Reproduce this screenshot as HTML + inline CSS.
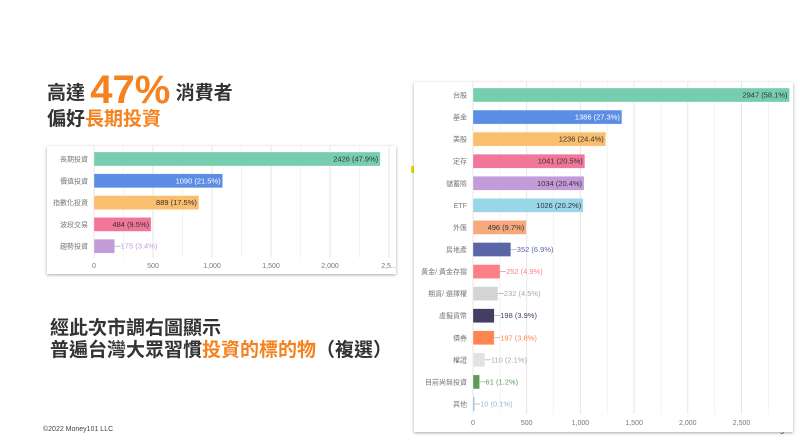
<!DOCTYPE html>
<html><head><meta charset="utf-8">
<style>
body{margin:0;width:800px;height:448px;background:#fff;font-family:"Liberation Sans","Noto Sans CJK TC",sans-serif;position:relative;overflow:hidden}
.t{position:absolute;color:#333;white-space:nowrap}
.o{color:#f58220}
.card{position:absolute;background:#fff;box-shadow:0 1px 3px rgba(0,0,0,.35)}
svg text{font-family:"Liberation Sans","Noto Sans CJK TC",sans-serif}
</style></head><body>
<div class="t" style="left:47px;top:68px;font-size:19px;font-weight:bold;line-height:44px">高達 <span class="o" style="font-size:40px;vertical-align:-4px">47%</span> 消費者</div>
<div class="t" style="left:47px;top:107px;font-size:19px;font-weight:bold;line-height:26px">偏好<span class="o">長期投資</span></div>
<div class="t" style="left:50px;top:318px;font-size:19px;font-weight:bold;line-height:22px">經此次市調右圖顯示<br>普遍台灣大眾習慣<span class="o">投資的標的物</span>（複選）</div>
<div class="t" style="left:43px;top:426px;font-size:7px;color:#444">©2022 Money101 LLC</div>
<div class="t" style="left:780px;top:429px;font-size:7px;color:#444">5</div>
<div style="position:absolute;left:411px;top:166px;width:3px;height:7px;background:#f3e000"></div>

<div class="card" style="left:47px;top:146px;width:349px;height:128px"><svg id="c1" width="349" height="128"></svg></div>
<div class="card" style="left:414px;top:82px;width:379px;height:350px"><svg id="c2" width="379" height="350"></svg></div>

<script>
const leftCats=["長期投資","價值投資","指數化投資","波段交易","趨勢投資"];
const leftVals=[2426,1090,889,484,175];
const leftPcts=["47.9%","21.5%","17.5%","9.5%","3.4%"];
const leftColors=["#77cdb0","#5b8de4","#f9be6e","#f2769a","#c39bd9"];
const leftTicks=[0,500,1000,1500,2000,2500];
const leftTickLabels=["0","500","1,000","1,500","2,000","2,5..."];

const rightCats=["台股","基金","美股","定存","儲蓄險","ETF","外匯","房地產","黃金/ 黃金存摺","期貨/ 選擇權","虛擬貨幣","債券","權證","目前尚無投資","其他"];
const rightVals=[2947,1386,1236,1041,1034,1026,496,352,252,232,198,197,110,61,10];
const rightPcts=["58.1%","27.3%","24.4%","20.5%","20.4%","20.2%","9.7%","6.9%","4.9%","4.5%","3.9%","3.8%","2.1%","1.2%","0.1%"];
const rightColors=["#77cdb0","#5b8de4","#f9be6e","#f2769a","#c39bd9","#9ad5e8","#f7a97e","#5a66a8","#fb7f86","#d4d4d4","#433e63","#ff8550","#e2e2e2","#5f9a5a","#8bbde0"];
const rightTicks=[0,500,1000,1500,2000,2500,3000];
const rightTickLabels=["0","500","1,000","1,500","2,000","2,500","⋮"];

const NS="http://www.w3.org/2000/svg";
function mk(svg,tag,a,txt){const e=document.createElementNS(NS,tag);for(const k in a)e.setAttribute(k,a[k]);if(txt!=null)e.textContent=txt;svg.appendChild(e);return e;}
function draw(id,cats,vals,pcts,colors,ticks,tlabels,o){
  const svg=document.getElementById(id);
  const x=v=>o.x0+v*o.k;
  const y=i=>o.y0+i*o.step;
  for(let v=0;v<=o.gmax;v+=250){
    const g=mk(svg,'line',{x1:x(v),x2:x(v),y1:o.gtop,y2:o.gbot,stroke:v%500?'#f3f3f3':'#e6e6e6','stroke-width':1});
    
  }
  ticks.forEach((t,i)=>{
    const e=mk(svg,'text',{x:x(t),y:o.ty,'font-size':7,fill:'#777','text-anchor':'middle'},tlabels[i]);
    
  });
  cats.forEach((c,i)=>{
    const cy=y(i);
    const l=mk(svg,'text',{x:o.x0-6,y:cy+2.5,'font-size':7,fill:'#777','text-anchor':'end'},c);
    
    const w=vals[i]*o.k;
    const r=mk(svg,'rect',{x:o.x0,y:cy-o.bh/2,width:Math.max(w,1.5),height:o.bh,fill:colors[i],stroke:'rgba(255,255,255,.6)','stroke-width':0.5});
    
    const lab=vals[i]+" ("+pcts[i]+")";
    if(w>o.inside){
      const t=mk(svg,'text',{x:o.x0+w-2,y:cy+2.5,'font-size':7.5,fill:i==1?'#fff':'#333','text-anchor':'end'},lab);
      
    }else{
      const ln=mk(svg,'line',{x1:o.x0+w,x2:o.x0+w+6,y1:cy,y2:cy,stroke:'#999','stroke-width':0.6});
      
      let col=colors[i];if(col=='#d4d4d4'||col=='#e2e2e2')col='#aaa';
      const t=mk(svg,'text',{x:o.x0+w+6,y:cy+2.5,'font-size':7.5,fill:col},lab);
      
    }
  });
}
draw('c1',leftCats,leftVals,leftPcts,leftColors,leftTicks,leftTickLabels,{x0:47,k:0.118,y0:13,step:21.8,bh:14,gtop:0,gbot:112,gmax:2750,ty:122,inside:40});
draw('c2',rightCats,rightVals,rightPcts,rightColors,rightTicks,rightTickLabels,{x0:59,k:0.1074,y0:13,step:22.07,bh:14,gtop:0,gbot:332,gmax:3000,ty:343,inside:45});
</script>
</body></html>
